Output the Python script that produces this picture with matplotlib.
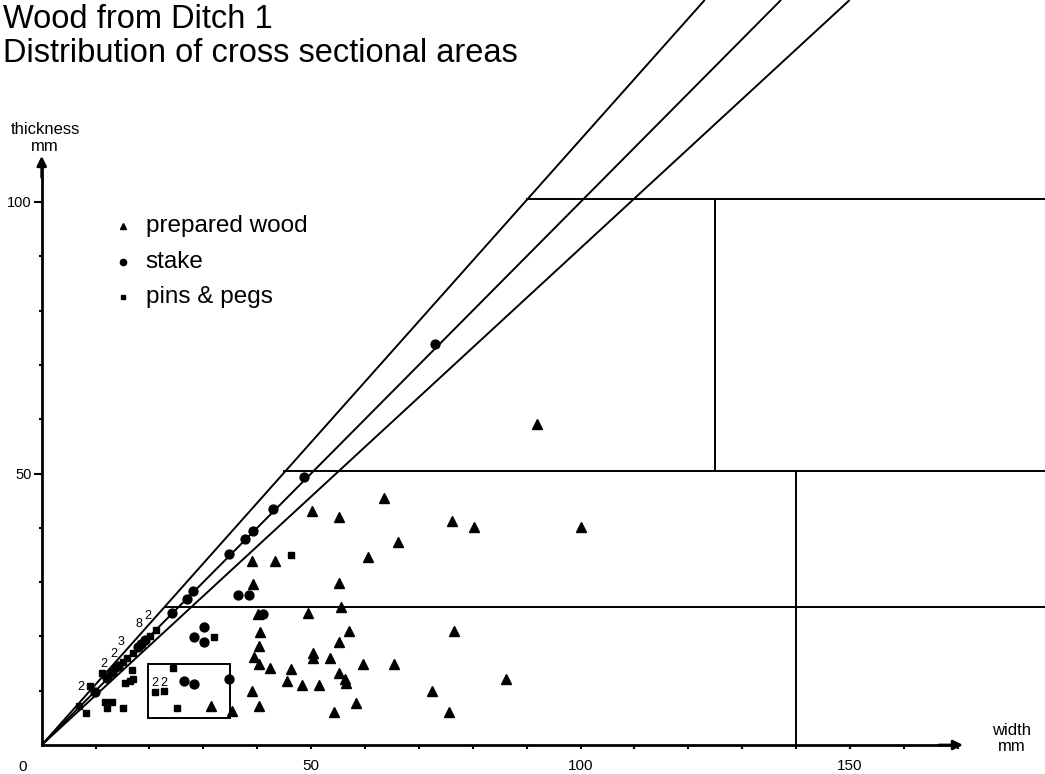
import matplotlib
matplotlib.use("Agg")
import matplotlib.pyplot as plt
from matplotlib.patches import Rectangle

plt.rcParams['font.family'] = ['Liberation Sans', 'DejaVu Sans']

# ---- data (width mm, thickness mm) ----
prepared_w = [63.5, 50.1, 55.2, 66.2, 60.6, 39.0, 43.3, 39.3, 55.2, 55.5, 40.2, 49.4,
              40.5, 57.1, 40.3, 55.2, 50.4, 50.4, 39.4, 40.4, 53.5, 42.4, 46.3, 59.6,
              65.4, 55.2, 56.3, 56.5, 45.6, 48.4, 51.4, 39.1, 72.4, 40.3, 58.3, 54.2,
              92.0, 76.2, 80.3, 100.0, 76.5, 86.2, 75.5, 31.4, 35.4]
prepared_t = [45.4, 43.1, 41.9, 37.4, 34.7, 33.8, 33.9, 29.6, 29.8, 25.5, 24.1, 24.3,
              20.9, 21.0, 18.2, 18.9, 17.0, 16.0, 16.2, 15.0, 16.0, 14.1, 14.0, 14.9,
              14.9, 13.3, 12.2, 11.4, 11.7, 11.0, 11.0, 9.9, 10.0, 7.2, 7.8, 6.0,
              59.1, 41.3, 40.2, 40.2, 21.0, 12.1, 6.0, 7.1, 6.3]

stake_w = [73.0, 48.7, 43.0, 39.3, 37.7, 34.8, 28.1, 27.0, 24.2, 19.2, 18.4, 17.9,
           14.2, 13.0, 12.1, 9.9, 36.4, 38.5, 41.0, 30.1, 28.3, 30.2, 26.5, 28.3, 34.7]
stake_t = [73.8, 49.4, 43.5, 39.5, 37.9, 35.2, 28.3, 26.9, 24.3, 19.3, 18.6, 18.1,
           14.5, 13.4, 12.3, 9.8, 27.7, 27.7, 24.1, 21.8, 19.8, 19.0, 11.7, 11.2, 12.1]

pins_w = [21.3, 20.1, 16.9, 15.9, 15.0, 13.6, 11.1, 9.0, 6.9, 8.3, 16.7, 15.5, 16.3,
          17.0, 11.7, 13.0, 12.1, 15.1, 32.0, 46.3, 24.4, 21.0, 22.7, 25.2]
pins_t = [21.1, 20.1, 17.0, 16.0, 15.3, 14.1, 13.2, 10.9, 7.1, 5.9, 13.9, 11.4, 11.8,
          12.1, 8.0, 8.0, 6.8, 6.8, 19.8, 35.0, 14.1, 9.8, 10.0, 6.9]

count_labels = ["2", "2", "2", "3", "8", "2", "2", "2"]
count_w = [7.3, 11.6, 13.3, 14.7, 18.1, 19.6, 21.0, 22.7]
count_t = [10.7, 14.9, 16.8, 19.0, 22.3, 23.8, 11.4, 11.4]

# guide lines: ratio thickness/width of the diagonal lines
diag_slopes = [1.115, 1.0, 0.915]
# class boundaries
hlines_y = [100.5, 50.5, 25.5]
hlines_x0 = [90.0, 45.0, 23.0]
vlines_x = [125.0, 140.0]
vlines_y0 = [50.5, 0.0]
vlines_y1 = [100.5, 50.5]

x_ticks = list(range(10, 171, 10))
x_labels = ["50", "100", "150"]
y_ticks = list(range(10, 101, 10))
y_labels = ["50", "100"]

# ---- figure ----
fig = plt.figure(figsize=(10.45, 7.74), dpi=100)
ax = fig.add_axes([0, 0, 1, 1])
ax.set_xlim(-7.74, 186.2)
ax.set_ylim(-5.34, 137.2)
ax.patch.set_alpha(0)

lw = 1.4
ytop = 137.2
for s in diag_slopes:
    ax.plot([0, ytop / s], [0, ytop], color='black', lw=lw, solid_capstyle='butt')
for y, x0 in zip(hlines_y, hlines_x0):
    ax.plot([x0, 186.2], [y, y], color='black', lw=lw)
for x, y0, y1 in zip(vlines_x, vlines_y0, vlines_y1):
    ax.plot([x, x], [y0, y1], color='black', lw=lw)

ax.add_patch(Rectangle((19.7, 4.9), 15.2, 10.1, fill=False, edgecolor='black', lw=lw))

ax.plot(prepared_w, prepared_t, linestyle='none', marker='^', ms=6.8, color='black')
ax.plot(stake_w, stake_t, linestyle='none', marker='o', ms=6.4, color='black')
ax.plot(pins_w, pins_t, linestyle='none', marker='s', ms=4.8, color='black')

for lab, x, y in zip(count_labels, count_w, count_t):
    ax.text(x, y, lab, fontsize=9, ha='center', va='center')

# axes (spines through origin)
for side in ['top', 'right']:
    ax.spines[side].set_visible(False)
ax.spines['left'].set_position(('data', 0))
ax.spines['bottom'].set_position(('data', 0))
ax.spines['left'].set_bounds(0, 107)
ax.spines['bottom'].set_bounds(0, 169)
ax.spines['left'].set_linewidth(2)
ax.spines['bottom'].set_linewidth(2)
ax.annotate('', xy=(0, 109), xytext=(0, 104),
            arrowprops=dict(arrowstyle='-|>', color='black', lw=2, mutation_scale=14))
ax.annotate('', xy=(171.5, 0), xytext=(166, 0),
            arrowprops=dict(arrowstyle='-|>', color='black', lw=2, mutation_scale=14))

ax.set_xticks([50, 100, 150])
ax.set_xticklabels(x_labels)
ax.set_xticks(x_ticks, minor=True)
ax.set_yticks([50, 100])
ax.set_yticklabels(y_labels)
ax.set_yticks(y_ticks, minor=True)
ax.tick_params(axis='x', which='major', direction='out', length=3, width=1.5,
               labelsize=11, pad=7)
ax.tick_params(axis='x', which='minor', direction='out', length=3, width=1.5)
ax.tick_params(axis='y', which='major', direction='out', length=6, width=1.5,
               labelsize=10.5, pad=1)
ax.tick_params(axis='y', which='minor', direction='out', length=2.5, width=1.5)
ax.text(-3.6, -4.0, "0", fontsize=11, ha='center', va='center')

ax.text(0.6, 113.4, "thickness", fontsize=12, ha='center', va='center')
ax.text(0.6, 110.2, "mm", fontsize=12, ha='center', va='center')
ax.text(180.0, 2.7, "width", fontsize=12, ha='center', va='center')
ax.text(180.0, -0.2, "mm", fontsize=12, ha='center', va='center')

# legend
leg_x = 15.0
leg_y = [95.6, 89.0, 82.5]
leg_m = ['^', 'o', 's']
leg_ms = [4.5, 4.5, 3.5]
leg_txt = ["prepared wood", "stake", "pins & pegs"]
for y, m, ms, t in zip(leg_y, leg_m, leg_ms, leg_txt):
    ax.plot([leg_x], [y], marker=m, ms=ms, color='black', linestyle='none')
    ax.text(leg_x + 4.3, y, t, fontsize=17.5, ha='left', va='center')

fig.text(0.003, 0.995, "Wood from Ditch 1\nDistribution of cross sectional areas",
         fontsize=23.5, ha='left', va='top', linespacing=1.12)

fig.savefig("out.png", dpi=100)
